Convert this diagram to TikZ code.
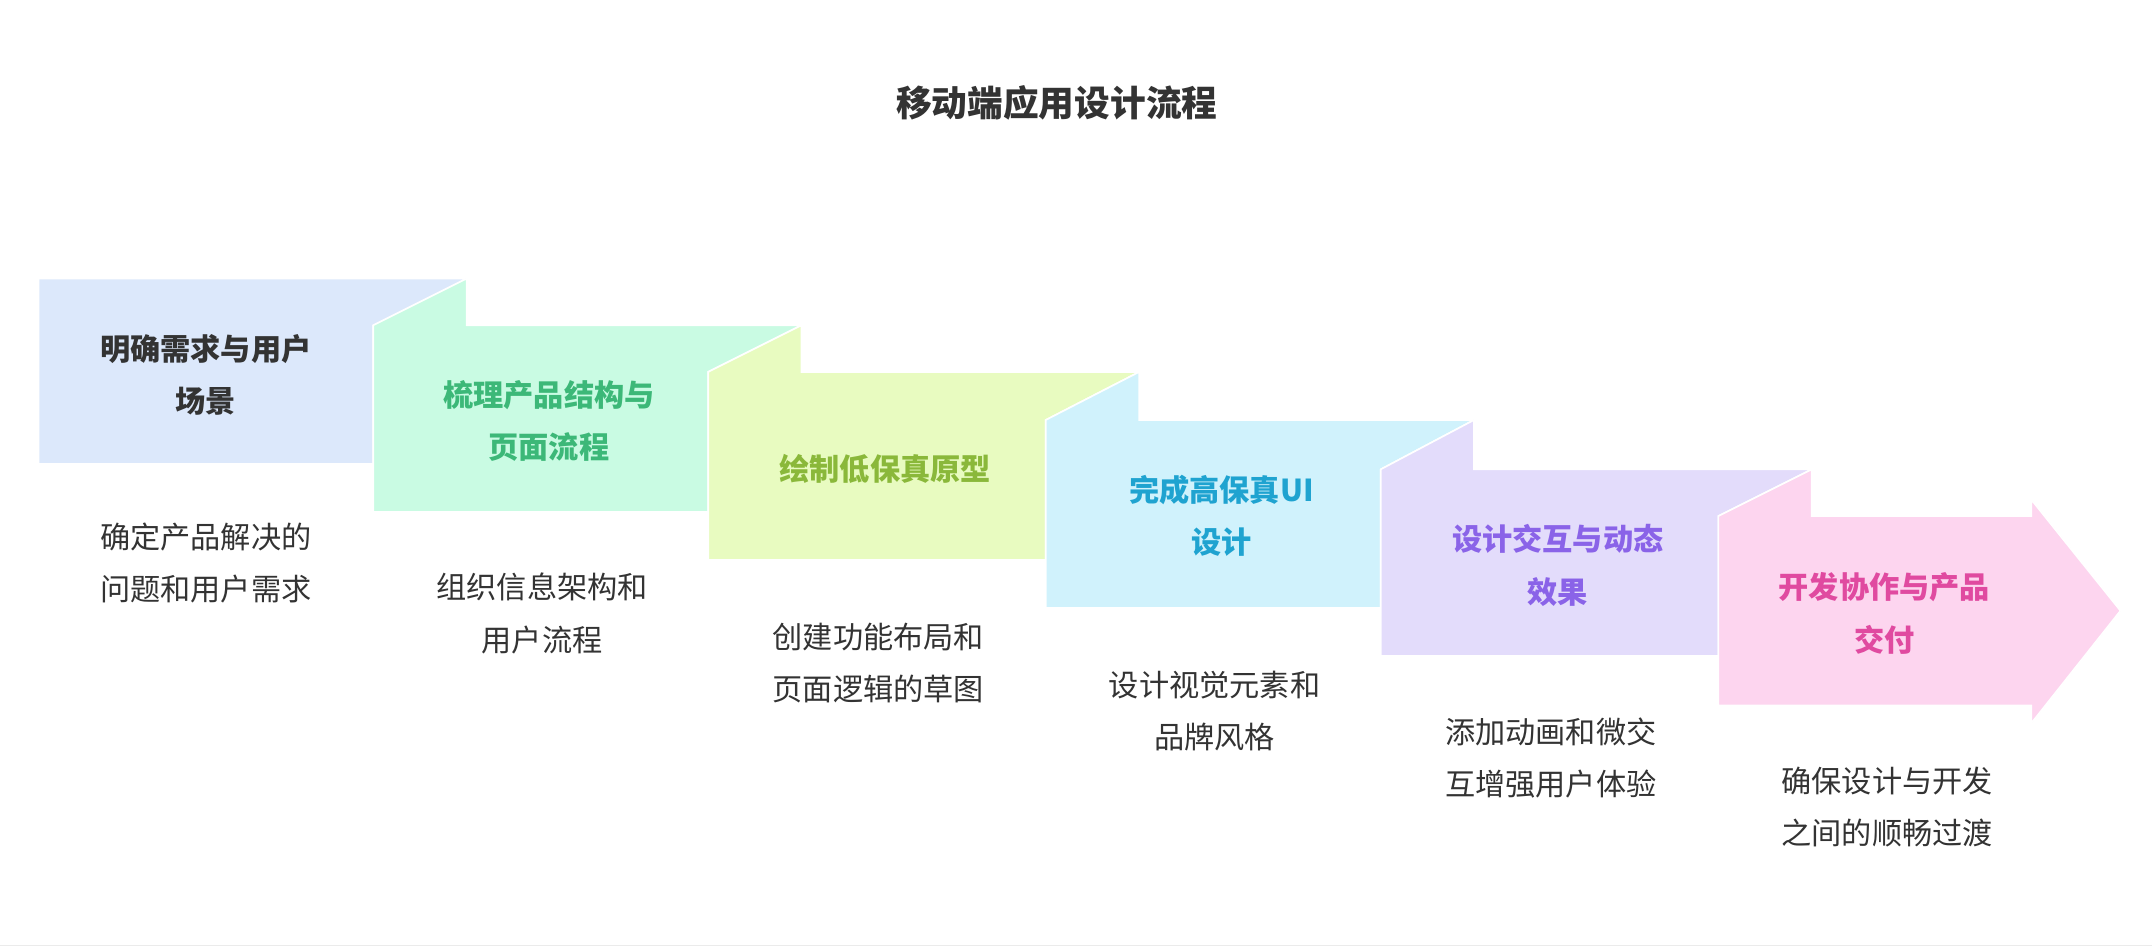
\documentclass[tikz,border=0pt]{standalone}
\usepackage{fontspec}
\setmainfont{Noto Sans CJK SC}
\begin{document}
\begin{tikzpicture}[x=1pt,y=-1pt,
  stage/.style={draw=white,line width=1.2pt},
  ttl/.style={font=\fontsize{22}{38}\selectfont\bfseries,align=center},
  dsc/.style={font=\fontsize{22}{38}\selectfont,align=center,text=black!80}]
\definecolor{c1}{HTML}{DCE8FB}\definecolor{t1}{HTML}{333333}
\definecolor{c2}{HTML}{C9FBE3}\definecolor{t2}{HTML}{3CB878}
\definecolor{c3}{HTML}{E8FBC0}\definecolor{t3}{HTML}{8AB83A}
\definecolor{c4}{HTML}{D0F2FC}\definecolor{t4}{HTML}{1FA3D0}
\definecolor{c5}{HTML}{E3DCFB}\definecolor{t5}{HTML}{8A63E8}
\definecolor{c6}{HTML}{FDD5EF}\definecolor{t6}{HTML}{E04AA0}
\useasboundingbox[fill=white] (0,0) rectangle (1568,692);
\draw[black!8,line width=1pt] (0,689) -- (1568,689);
\node[font=\fontsize{26}{30}\selectfont\bfseries,text=black!80] (title) at (770,75) {移动端应用设计流程};
% boxes
\fill[c1,stage] (28,203) -- (340,203) -- (272,237) -- (272,338) -- (28,338) -- cycle;
\fill[c2,stage] (272,237) -- (340,203) -- (340,237) -- (584,237) -- (516,271) -- (516,373) -- (272,373) -- cycle;
\fill[c3,stage] (516,271) -- (584,237) -- (584,271) -- (830,271) -- (762,306) -- (762,408) -- (516,408) -- cycle;
\fill[c4,stage] (762,306) -- (830,271) -- (830,306) -- (1074,306) -- (1006,342) -- (1006,443) -- (762,443) -- cycle;
\fill[c5,stage] (1006,342) -- (1074,306) -- (1074,342) -- (1320,342) -- (1252,376) -- (1252,478) -- (1006,478) -- cycle;
\fill[c6,stage] (1252,376) -- (1320,342) -- (1320,376) -- (1480,376) -- (1480,364) -- (1545,445) -- (1480,527) -- (1480,514) -- (1252,514) -- cycle;
% titles
\node[ttl,text=t1] (s1) at (150,273) {明确需求与用户\\场景};
\node[ttl,text=t2] (s2) at (400,307) {梳理产品结构与\\页面流程};
\node[ttl,text=t3] (s3) at (645,342) {绘制低保真原型};
\node[ttl,text=t4] (s4) at (890,376) {完成高保真UI\\设计};
\node[ttl,text=t5] (s5) at (1135,412) {设计交互与动态\\效果};
\node[ttl,text=t6] (s6) at (1373,447) {开发协作与产品\\交付};
% descriptions
\node[dsc] (d1) at (150,410) {确定产品解决的\\问题和用户需求};
\node[dsc] (d2) at (395,447) {组织信息架构和\\用户流程};
\node[dsc] (d3) at (640,483) {创建功能布局和\\页面逻辑的草图};
\node[dsc] (d4) at (885,518) {设计视觉元素和\\品牌风格};
\node[dsc] (d5) at (1130,552) {添加动画和微交\\互增强用户体验};
\node[dsc] (d6) at (1375,588) {确保设计与开发\\之间的顺畅过渡};
\end{tikzpicture}
\end{document}
